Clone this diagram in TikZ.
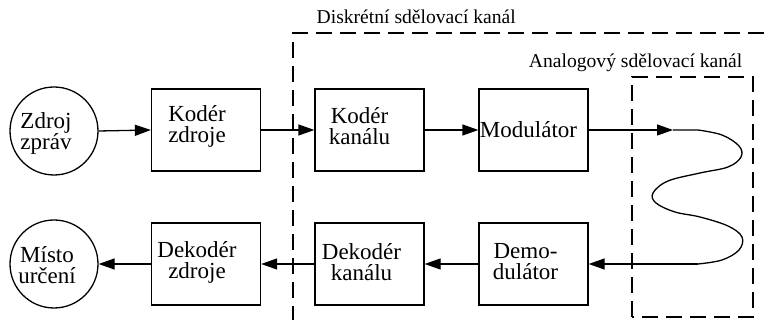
\documentclass[tikz,border=0pt]{standalone}
\usepackage{fontspec}
\setmainfont{Liberation Serif}
\usetikzlibrary{arrows.meta}
\begin{document}
\begin{tikzpicture}[x=1pt,y=1pt,line width=1.3pt,>={Triangle[length=16pt,width=11pt]}]
  \tikzstyle{blok}=[draw, minimum width=109pt, minimum height=82pt, inner sep=0pt]
  \tikzstyle{kruh}=[draw, circle, minimum size=88pt, inner sep=0pt]
  \tikzstyle{txt}=[font=\fontsize{23}{21}\selectfont, align=center, inner sep=0pt]
  \tikzstyle{nadpis}=[font=\fontsize{19.6}{20}\selectfont, inner sep=0pt]
  \tikzstyle{ramec}=[dash pattern=on 16pt off 8pt]

  \useasboundingbox (0,0) rectangle (766,320);

  % kanaly
  \draw[ramec] (293,-2) -- (293,287) -- (768,287);
  \node[nadpis, anchor=base west] (disk) at (316,296) {Diskrétní sdělovací kanál};
  \draw[ramec] (632,3) -- (632,243) -- (753,243) -- (753,3) -- cycle;
  \node[nadpis, anchor=base east] (analog) at (743,252) {Analogový sdělovací kanál};

  % vysilac
  \node[kruh] (zdroj) at (54,189) {};
  \node[txt] at ([xshift=-8pt,yshift=-2pt]zdroj.center) {Zdroj\\zpráv};
  \node[blok] (kz) at (206,190) {};
  \node[txt] at ([xshift=-9pt,yshift=4pt]kz.center) {Kodér\\zdroje};
  \node[blok] (kk) at (369.5,190) {};
  \node[txt] at ([xshift=-10pt,yshift=4pt]kk.center) {Kodér\\kanálu};
  \node[blok] (mod) at (533.5,190) {};
  \node[txt] at ([xshift=-5pt,yshift=0pt]mod.center) {Modulátor};

  % prijimac
  \node[kruh] (misto) at (54,56) {};
  \node[txt] at ([xshift=-7pt,yshift=-1pt]misto.center) {Místo\\určení};
  \node[blok] (dz) at (206,56) {};
  \node[txt] at ([xshift=-9pt,yshift=2pt]dz.center) {Dekodér\\zdroje};
  \node[blok] (dk) at (369.5,56) {};
  \node[txt] at ([xshift=-8pt,yshift=2pt]dk.center) {Dekodér\\kanálu};
  \node[blok] (demod) at (533.5,56) {};
  \node[txt] at ([xshift=-8pt,yshift=2pt]demod.center) {Demo-\\dulátor};

  \coordinate (vstup) at (673,190);
  \coordinate (vystup) at (698,56);

  \draw[->] (zdroj.east) -- (kz.west);
  \draw[->] (kz) -- (kk);
  \draw[->] (kk) -- (mod);
  \draw[->] (mod) -- (vstup);
  % zkresleny signal
  \draw (vstup) -- (698,190) plot[smooth, tension=0.6] coordinates {(698,190) (722,185) (739,174)
    (741,163) (728,153) (700,147) (668,139) (653,127) (656,117) (675,108) (700,103) (728,94)
    (742,83) (739,70) (722,60) (698,56)};
  \draw[->] (vystup) -- (demod);
  \draw[->] (demod) -- (dk);
  \draw[->] (dk) -- (dz);
  \draw[->] (dz.west) -- (misto.east);
\end{tikzpicture}
\end{document}
